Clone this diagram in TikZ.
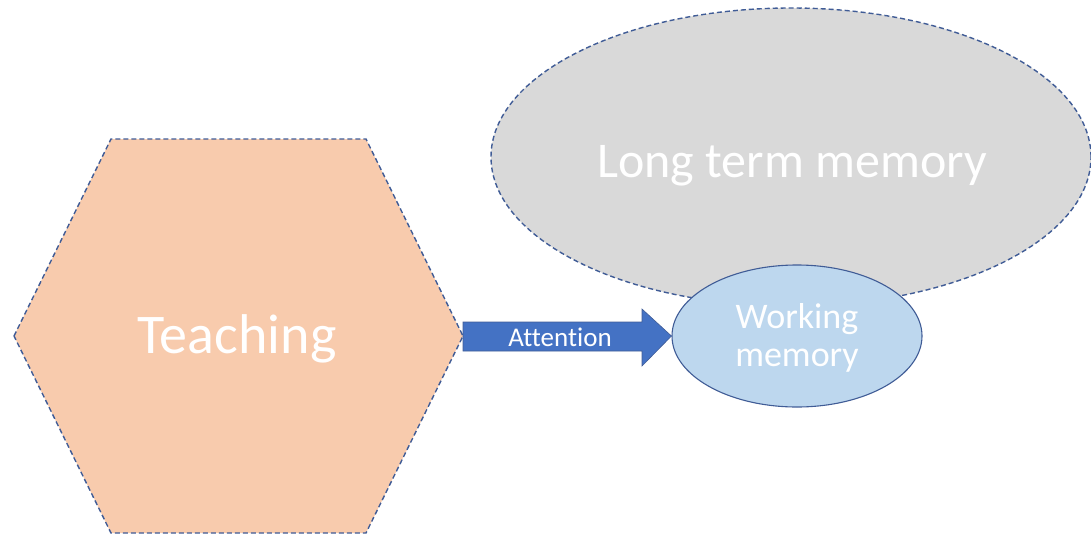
\documentclass[tikz,border=0pt]{standalone}
\usepackage{fontspec}
\setmainfont{Carlito}[Ligatures=NoCommon]
\usetikzlibrary{shapes.geometric}
\definecolor{peach}{RGB}{248,203,173}
\definecolor{ltm}{RGB}{217,217,217}
\definecolor{wm}{RGB}{189,215,238}
\definecolor{arrowblue}{RGB}{68,114,196}
\definecolor{edgeblue}{RGB}{64,92,150}
\tikzset{
  dashedge/.style={draw=edgeblue, line width=1.4pt, dash pattern=on 5pt off 3pt},
  wtext/.style={text=white, font=#1, align=center, inner sep=0pt, anchor=base}
}
\begin{document}
\begin{tikzpicture}[x=1pt,y=-1pt]
\useasboundingbox (0,0) rectangle (1091,538);
% long term memory
\node[ellipse, fill=ltm, dashedge, minimum width=600pt, minimum height=298pt, inner sep=0pt] (ltm) at (791,157) {};
\node[wtext=\fontsize{50}{56}\selectfont] (ltmtext) at (792,177) {Long term memory};
% teaching hexagon
\filldraw[fill=peach, dashedge] (14,336) -- (111,139) -- (366,139) -- (463,336) -- (366,533) -- (111,533) -- cycle;
\coordinate (hexright) at (463,336);
\node[wtext=\fontsize{56}{62}\selectfont] (teach) at (237,353) {Teaching};
% working memory
\node[ellipse, fill=wm, draw=edgeblue, line width=1.1pt, minimum width=250pt, minimum height=142pt, inner sep=0pt] (wm) at (797,336) {};
\node[wtext=\fontsize{36}{40}\selectfont] (wmtext1) at (797,328) {Working};
\node[wtext=\fontsize{36}{40}\selectfont] (wmtext2) at (797,366) {memory};
% attention arrow
\filldraw[fill=arrowblue, draw=edgeblue, line width=0.6pt]
  (hexright) ++(0,-14) -- (642,322) -- (642,309) -- (wm.west) -- (642,366) -- (642,351) -- (463,351) -- cycle;
\node[wtext=\fontsize{27}{30}\selectfont] (att) at (560,346) {Attention};
\end{tikzpicture}
\end{document}
